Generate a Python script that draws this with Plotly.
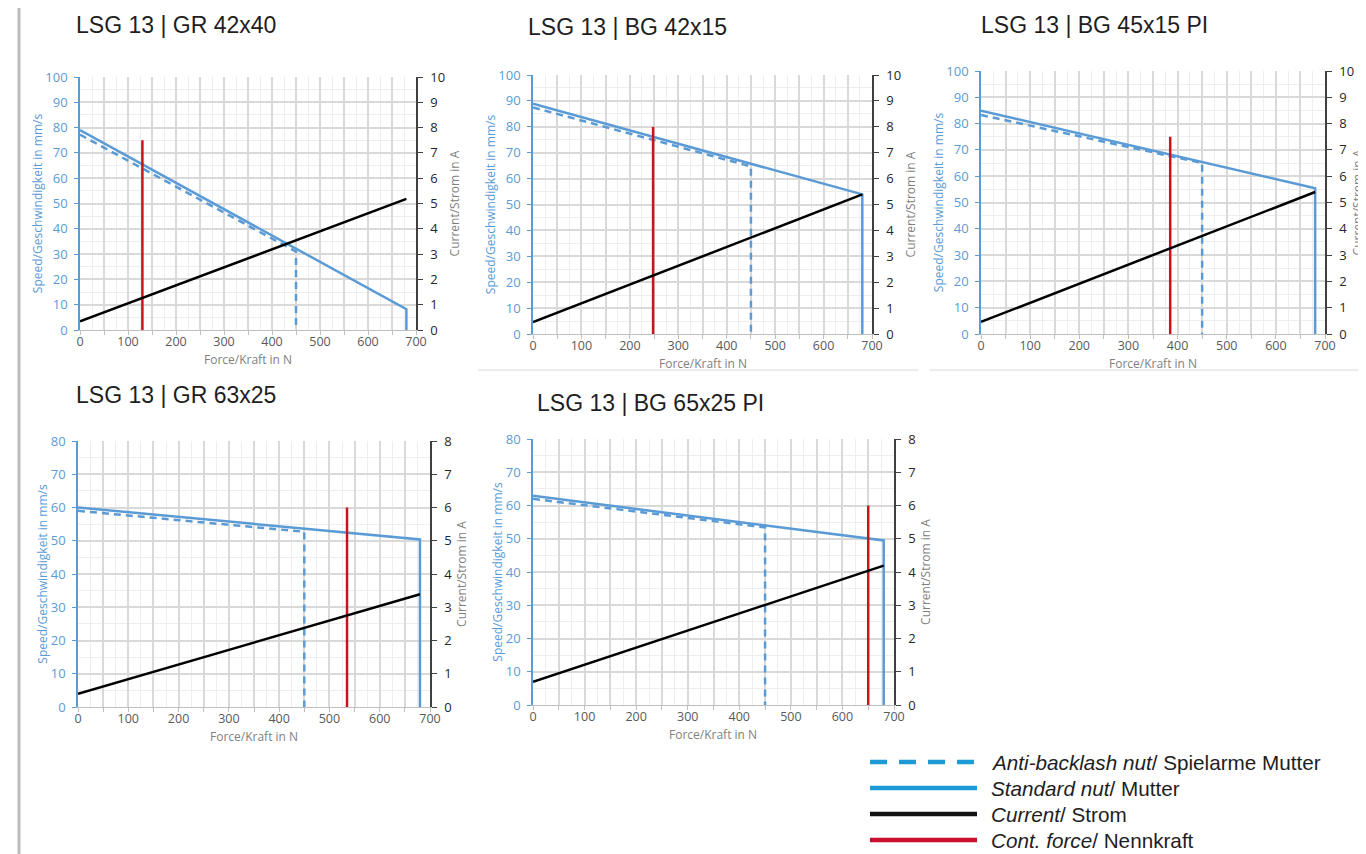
import plotly.graph_objects as go

W, H = 1366, 854
OFF = 8  # page body margin of the html page

chart_titles = ["LSG 13 | GR 42x40", "LSG 13 | BG 42x15", "LSG 13 | BG 45x15 PI",
                "LSG 13 | GR 63x25", "LSG 13 | BG 65x25 PI"]
force_std = [0, 680, 680]
force_ab = [0, 450, 450]
force_cur = [0, 680]
speed_std = [[79, 8.2, 0], [88.9, 53.9, 0], [84.9, 55.4, 0], [60, 50.4, 0], [62.9, 49.5, 0]]
speed_ab = [[77.2, 31, 0], [87.5, 64.7, 0], [83.3, 65, 0], [59, 52.7, 0], [62, 53.4, 0]]
current = [[0.34, 5.18], [0.46, 5.39], [0.46, 5.4], [0.4, 3.39], [0.7, 4.19]]
cont_force = [130, 248, 385, 535, 650]
cont_speed_top = [75, 80, 75, 60, 60]
speed_max = [100, 100, 100, 80, 80]
current_max = [10, 10, 10, 8, 8]
x_tick_vals = list(range(0, 701, 50))
x_tick_text = [str(v) if v % 100 == 0 else "" for v in x_tick_vals]

legend_labels = ["<i>Anti-backlash nut</i>/ Spielarme Mutter", "<i>Standard nut</i>/ Mutter",
                 "<i>Current</i>/ Strom", "<i>Cont. force</i>/ Nennkraft"]

# plot-area boxes in page pixels: left, right, top, bottom
boxes = [(80, 416, 77, 330), (533, 872, 75, 334), (981, 1325, 71, 334),
         (78, 430, 441, 707), (533, 894, 439, 705)]
title_pos = [(74, 25), (526, 27), (979, 25), (74, 395), (535, 403)]
right_standoff = [6, 6, 0, 6, 6]


def px(p):
    return (p - OFF) / W


def py(p):
    return 1 - (p - OFF) / H


BLUE = "#5B9BD5"
RED = "#C8141E"
FONT = "Open Sans"

fig = go.Figure()
layout = dict(width=W, height=H, margin=dict(l=0, r=0, t=0, b=0),
              paper_bgcolor="white", plot_bgcolor="white", showlegend=False)
annotations = []
shapes = []

for i in range(5):
    n = i + 1
    xa = "x" if n == 1 else f"x{n}"
    ya = "y" if n == 1 else f"y{n}"
    ya2 = f"y{n + 5}"
    l, r, t, b = boxes[i]
    fig.add_trace(go.Scatter(x=force_ab, y=speed_ab[i], mode="lines", xaxis=xa, yaxis=ya,
                             line=dict(color=BLUE, width=2.5, dash="7px,5px")))
    fig.add_trace(go.Scatter(x=force_std, y=speed_std[i], mode="lines", xaxis=xa, yaxis=ya,
                             line=dict(color=BLUE, width=2.5)))
    fig.add_trace(go.Scatter(x=[cont_force[i], cont_force[i]], y=[0, cont_speed_top[i]], mode="lines",
                             xaxis=xa, yaxis=ya, line=dict(color=RED, width=2.5)))
    fig.add_trace(go.Scatter(x=force_cur, y=current[i], mode="lines", xaxis=xa, yaxis=ya2,
                             line=dict(color="black", width=2.5)))

    xkey = "xaxis" if n == 1 else f"xaxis{n}"
    ykey = "yaxis" if n == 1 else f"yaxis{n}"
    layout[xkey] = dict(
        domain=[px(l), px(r)], anchor=ya, range=[0, 700], automargin=False,
        tickmode="array", tickvals=x_tick_vals, ticktext=x_tick_text,
        ticks="outside", ticklen=4, tickcolor="#bfbfbf", ticklabelstandoff=-4,
        showgrid=True, gridcolor="#d9d9d9", gridwidth=1.5,
        minor=dict(dtick=25, showgrid=True, gridcolor="#eeeeee", gridwidth=1),
        showline=True, linecolor="#bfbfbf", linewidth=1, zeroline=False,
        tickfont=dict(family=FONT, size=12.5, color="#595959"),
        fixedrange=True)
    layout[ykey] = dict(
        domain=[py(b), py(t)], anchor=xa, range=[0, speed_max[i]], dtick=10, automargin=False,
        ticks="outside", ticklen=4, tickcolor=BLUE, ticklabelstandoff=4,
        showgrid=True, gridcolor="#d9d9d9", gridwidth=1.5,
        minor=dict(dtick=5, showgrid=True, gridcolor="#eeeeee", gridwidth=1),
        showline=True, linecolor=BLUE, linewidth=1.5, zeroline=False,
        tickfont=dict(family=FONT, size=13, color=BLUE),
        title=dict(text="Speed/Geschwindigkeit in mm/s", font=dict(family=FONT, size=12, color=BLUE), standoff=0),
        fixedrange=True)
    layout[f"yaxis{n + 5}"] = dict(
        overlaying=ya, anchor=xa, side="right", range=[0, current_max[i]], dtick=1, automargin=False,
        ticks="outside", ticklen=5, tickcolor="#404040", ticklabelstandoff=5,
        showgrid=False, showline=True, linecolor="#404040", linewidth=1.5, zeroline=False,
        tickfont=dict(family=FONT, size=13, color="#262626"),
        title=dict(text="Current/Strom in A", font=dict(family=FONT, size=12, color="#7f7f7f"),
                   standoff=right_standoff[i]),
        fixedrange=True)

    # x axis title
    annotations.append(dict(text="Force/Kraft in N", x=px((l + r) / 2), y=py(b + 29), xref="paper", yref="paper",
                            xanchor="center", yanchor="middle", showarrow=False,
                            font=dict(family=FONT, size=12, color="#7f7f7f")))
    tx, ty = title_pos[i]
    annotations.append(dict(text=chart_titles[i], x=px(tx), y=py(ty), xref="paper", yref="paper",
                            xanchor="left", yanchor="middle", showarrow=False,
                            font=dict(family="Liberation Sans", size=23, color="#1e1e1e")))

# legend (drawn as shapes + text)
leg_rows = [762, 788, 814, 840]
leg_colors = ["#1E9BD7", "#1E9BD7", "#111111", "#C8102E"]
for k, (row, col) in enumerate(zip(leg_rows, leg_colors)):
    shapes.append(dict(type="line", xref="paper", yref="paper", x0=px(870), x1=px(977),
                       y0=py(row), y1=py(row),
                       line=dict(color=col, width=4.5, dash="17px,12px" if k == 0 else "solid")))
    annotations.append(dict(text=legend_labels[k], x=px(989), y=py(row), xref="paper", yref="paper",
                            xanchor="left", yanchor="middle", showarrow=False,
                            font=dict(family="Liberation Sans", size=20.7, color="#1e1e1e")))

# page decorations
shapes.append(dict(type="line", xref="paper", yref="paper", x0=px(19), x1=px(19), y0=0, y1=1.02,
                   line=dict(color="#bdbdbd", width=3)))
shapes.append(dict(type="line", xref="paper", yref="paper", x0=px(478), x1=px(918),
                   y0=py(370), y1=py(370), line=dict(color="#e6e6e6", width=1.5)))
shapes.append(dict(type="line", xref="paper", yref="paper", x0=px(930), x1=px(1374),
                   y0=py(370), y1=py(370), line=dict(color="#e6e6e6", width=1.5)))

layout["annotations"] = annotations
layout["shapes"] = shapes
fig.update_layout(**layout)
fig.write_html("out.html")
